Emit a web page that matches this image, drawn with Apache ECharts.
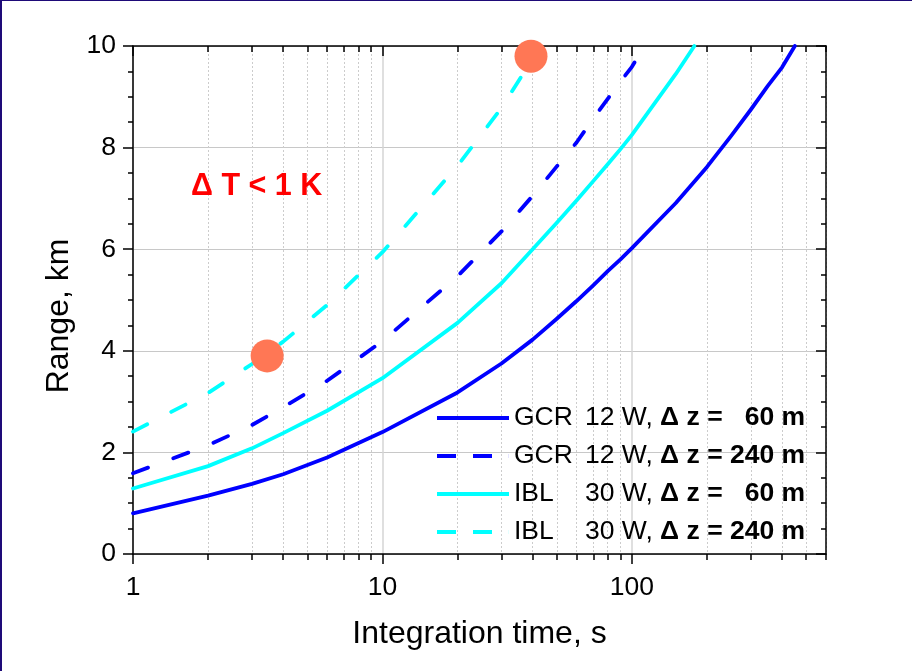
<!DOCTYPE html>
<html>
<head>
<meta charset="utf-8">
<script src="https://cdn.jsdelivr.net/npm/echarts@6/dist/echarts.min.js"></script>
<style>
  html, body { margin: 0; padding: 0; background: #ffffff; }
  #chart { position: absolute; left: 0; top: 0; width: 912px; height: 671px; }
  #frame { position: absolute; left: 0; top: 0; width: 912px; height: 671px; box-sizing: border-box;
           border-left: 2px solid #1e0a78; border-top: 1px solid #1e0a78; pointer-events: none; }
</style>
</head>
<body>
<div id="chart"></div>
<div id="frame"></div>
<script>
// ---- data ----
const tGCR60  = [1, 2, 3, 4, 6, 10, 20, 30, 40, 50, 60, 70, 80, 90, 100, 150, 200, 250, 300, 350, 400, 450];
const vGCR60  = [0.80, 1.15, 1.38, 1.57, 1.90, 2.40, 3.18, 3.75, 4.22, 4.63, 4.98, 5.29, 5.57, 5.80, 6.02, 6.91, 7.62, 8.23, 8.75, 9.21, 9.58, 10.0];

const tGCR240 = [1, 2, 3, 4, 6, 10, 20, 30, 40, 50, 60, 70, 80, 90, 100, 112];
const vGCR240 = [1.59, 2.14, 2.54, 2.89, 3.41, 4.19, 5.47, 6.35, 7.05, 7.63, 8.10, 8.57, 8.96, 9.30, 9.59, 10.0];

const tIBL60  = [1, 2, 3, 4, 6, 10, 20, 30, 40, 50, 60, 70, 80, 90, 100, 150, 178];
const vIBL60  = [1.29, 1.73, 2.08, 2.38, 2.82, 3.46, 4.55, 5.33, 6.00, 6.52, 6.96, 7.34, 7.67, 7.97, 8.25, 9.45, 10.0];

const tIBL240 = [1, 2, 3, 4, 6, 10, 20, 30, 40];
const vIBL240 = [2.41, 3.17, 3.74, 4.18, 4.90, 5.94, 7.64, 8.78, 9.75];

const markT = [3.45, 39.4];
const markV = [3.9, 9.8];

const seriesNames = ['GCR 12 W, Δz = 60 m', 'GCR 12 W, Δz = 240 m', 'IBL 30 W, Δz = 60 m', 'IBL 30 W, Δz = 240 m'];
const instrument = ['GCR', 'GCR', 'IBL', 'IBL'];
const power = ['12 W', '12 W', '30 W', '30 W'];
const dz = ['60', '240', '60', '240'];

const xMajorTicks = [1, 10, 100];
const xMinorTicks = [2, 3, 4, 5, 6, 7, 8, 9, 20, 30, 40, 50, 60, 70, 80, 90, 200, 300, 400, 500, 600];
const xMin = 1, xMax = 600;
const yMin = 0, yMax = 10, yInterval = 2;

const xTitle = 'Integration time, s';
const yTitle = 'Range, km';
const note = 'Δ T < 1 K';

// ---- chart ----
const FONT = 'Liberation Sans, Arial, Helvetica, sans-serif';
const zip = (a, b) => a.map((v, i) => [v, b[i]]);
const BLUE = '#0000ff', CYAN = '#00ffff';
const DASH = [16, 27];
const ICON_SOLID = 'path://M0,0h72v4h-72z';
const ICON_DASH = 'path://M0,0h19v4h-19zM36,0h19v4h-19zM71.9,0h0.1v4h-0.1z';

function xAxisBase(pos) {
  return {
    type: 'log', logBase: 10, min: xMin, max: xMax, position: pos, offset: 0,
    axisLine: { show: false, onZero: false },
    axisTick: { show: false }, axisLabel: { show: false }, splitLine: { show: false },
    minorTick: { show: false }, minorSplitLine: { show: false }
  };
}

const xAxes = [];
xAxes.push(Object.assign(xAxisBase('bottom'), {
  name: xTitle, nameLocation: 'middle', nameGap: 64,
  nameTextStyle: { fontFamily: FONT, fontSize: 32, color: '#000' },
  axisLine: { show: true, onZero: false, lineStyle: { color: '#000', width: 1.5 } },
  axisTick: { show: true, customValues: xMajorTicks, length: 10, lineStyle: { color: '#000', width: 1.5 } },
  axisLabel: { show: true, customValues: xMajorTicks, margin: 20, fontFamily: FONT, fontSize: 26.5, color: '#000' },
  splitLine: { show: true, lineStyle: { color: '#d4d4d4', width: 1.5 } }
}));
xAxes.push(Object.assign(xAxisBase('bottom'), {
  axisTick: { show: true, customValues: xMinorTicks, length: 6, lineStyle: { color: '#000', width: 1.5 } },
  splitLine: { show: true, lineStyle: { color: '#cccccc', width: 1, type: [2, 2] } }
}));
xAxes.push(Object.assign(xAxisBase('top'), {
  axisLine: { show: true, onZero: false, lineStyle: { color: '#000', width: 1.5 } },
  axisTick: { show: true, inside: true, customValues: xMajorTicks, length: 10, lineStyle: { color: '#000', width: 1.5 } }
}));
xAxes.push(Object.assign(xAxisBase('top'), {
  axisTick: { show: true, inside: true, customValues: xMinorTicks, length: 6, lineStyle: { color: '#000', width: 1.5 } }
}));

const yAxes = [
  {
    type: 'value', min: yMin, max: yMax, interval: yInterval, position: 'left',
    name: yTitle, nameLocation: 'middle', nameGap: 57, nameRotate: 90,
    nameTextStyle: { fontFamily: FONT, fontSize: 32, color: '#000', padding: [0, 32, 0, 0] },
    axisLine: { show: true, onZero: false, lineStyle: { color: '#000', width: 1.5 } },
    axisTick: { show: true, length: 10, lineStyle: { color: '#000', width: 1.5 } },
    minorTick: { show: true, splitNumber: 4, length: 5, lineStyle: { color: '#000', width: 1.5 } },
    axisLabel: { margin: 17, fontFamily: FONT, fontSize: 26.5, color: '#000' },
    splitLine: { show: true, lineStyle: { color: '#c8c8c8', width: 1.2 } }
  },
  {
    type: 'value', min: yMin, max: yMax, interval: yInterval, position: 'right',
    axisLine: { show: true, onZero: false, lineStyle: { color: '#000', width: 1.5 } },
    axisTick: { show: true, inside: true, length: 10, lineStyle: { color: '#000', width: 1.5 } },
    minorTick: { show: true, splitNumber: 4, length: 5, lineStyle: { color: '#000', width: 1.5 } },
    axisLabel: { show: false },
    splitLine: { show: false }
  }
];

const lineDefs = [
  { t: tGCR60, v: vGCR60, color: BLUE, dash: 'solid', icon: ICON_SOLID },
  { t: tGCR240, v: vGCR240, color: BLUE, dash: DASH, icon: ICON_DASH },
  { t: tIBL60, v: vIBL60, color: CYAN, dash: 'solid', icon: ICON_SOLID },
  { t: tIBL240, v: vIBL240, color: CYAN, dash: DASH, icon: ICON_DASH }
];

const lineSeries = lineDefs.map((s, i) => ({
  name: seriesNames[i], type: 'line', xAxisIndex: 0, yAxisIndex: 0,
  data: zip(s.t, s.v), symbol: 'none', smooth: false, z: 3,
  lineStyle: { color: s.color, width: 3.8, type: s.dash, cap: 'round', join: 'round' },
  itemStyle: { color: s.color }
}));

const option = {
  animation: false,
  backgroundColor: '#ffffff',
  textStyle: { fontFamily: FONT },
  grid: { left: 133, right: 86, top: 46, bottom: 117, containLabel: false, outerBoundsMode: 'none' },
  xAxis: xAxes,
  yAxis: yAxes,
  legend: {
    orient: 'vertical', left: 437, top: 404, padding: 0,
    itemWidth: 72, itemHeight: 4, itemGap: 10, itemTextGap: 8,
    data: seriesNames.map((n, i) => ({ name: n, icon: lineDefs[i].icon })),
    formatter: function (name) {
      const i = seriesNames.indexOf(name);
      const pad = dz[i].length < 3 ? '  ' : '';
      return '{a|' + instrument[i] + '}{b|' + power[i] + ', }{c|Δ z = ' + pad + dz[i] + ' m}';
    },
    textStyle: {
      color: '#000', fontFamily: FONT, fontSize: 26.5, lineHeight: 28,
      rich: {
        a: { fontFamily: FONT, fontSize: 26.5, color: '#000', width: 71 },
        b: { fontFamily: FONT, fontSize: 26.5, color: '#000' },
        c: { fontFamily: FONT, fontSize: 26.5, color: '#000', fontWeight: 'bold' }
      }
    }
  },
  graphic: [{
    type: 'text', left: 191, top: 171, z: 10,
    style: { text: note, fontFamily: FONT, fontSize: 30.5, fontWeight: 'bold', fill: '#ff0000' }
  }],
  series: lineSeries.concat([{
    name: 'marks', type: 'scatter', xAxisIndex: 0, yAxisIndex: 0,
    data: zip(markT, markV), symbol: 'circle', symbolSize: 33, z: 5,
    itemStyle: { color: '#ff7755', opacity: 1 }
  }])
};

const chart = echarts.init(document.getElementById('chart'), null, { renderer: 'canvas' });
chart.setOption(option);
</script>
</body>
</html>
